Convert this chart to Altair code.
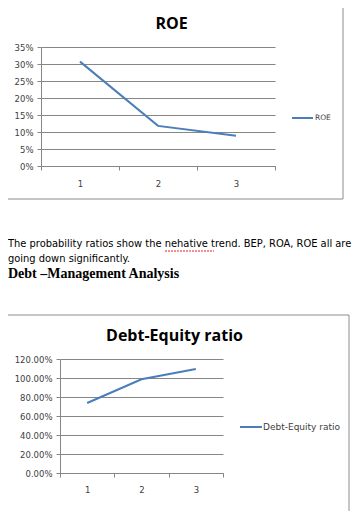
import altair as alt
import pandas as pd

# ---------------- data ----------------
periods = [1, 2, 3]
roe = [0.307, 0.118, 0.089]
debt_equity = [0.737, 0.986, 1.095]
roe_ticks = [0, 0.05, 0.10, 0.15, 0.20, 0.25, 0.30, 0.35]
de_ticks = [0, 0.2, 0.4, 0.6, 0.8, 1.0, 1.2]
roe_title = "ROE"
de_title = "Debt-Equity ratio"
body_lines = [
    "The probability ratios show the nehative trend. BEP, ROA, ROE all are",
    "going down significantly.",
]
heading = "Debt \u2013Management Analysis"

# ---------------- style ----------------
W, H = 346, 503
LINE = "#4a7ebb"
GRID = "#868686"
FRAME = "#8c8c8c"
LABEL = "#404040"
TICKFONT = "DejaVu Sans"
TITLEFONT = "Open Sans"
BODYFONT = "Liberation Sans Narrow, DejaVu Sans Condensed, Open Sans"
one = pd.DataFrame({"a": [0]})


def text_mark(txt, x, y, size, font, weight="normal", align="left", color="#000000"):
    return alt.Chart(pd.DataFrame({"t": [txt]})).mark_text(
        align=align, baseline="alphabetic", font=font, fontSize=size,
        fontWeight=weight, color=color
    ).encode(x=alt.value(x), y=alt.value(y), text="t:N")


def frame(x1, x2, y1, y2):
    return alt.Chart(one).mark_rect(fill="transparent", stroke=FRAME, strokeWidth=1).encode(
        x=alt.value(x1), x2=alt.value(x2), y=alt.value(y1), y2=alt.value(y2))


def legend_line(x1, x2, y):
    return alt.Chart(one).mark_rule(color=LINE, strokeWidth=2).encode(
        x=alt.value(x1), x2=alt.value(x2), y=alt.value(y))


def legend_text(txt, x, y, size):
    return alt.Chart(pd.DataFrame({"t": [txt]})).mark_text(
        align="left", baseline="middle", font=TICKFONT, fontSize=size, color=LABEL
    ).encode(x=alt.value(x), y=alt.value(y), text="t:N")


def axis_x(offset, pad):
    return alt.Axis(orient="bottom", offset=offset, tickBand="extent", labelAngle=0,
                    title=None, grid=False, domainColor=GRID, tickColor=GRID,
                    tickSize=4, labelFont=TICKFONT, labelFontSize=8.5,
                    labelColor=LABEL, labelPadding=pad)


def axis_y(offset, values, fmt, size):
    return alt.Axis(orient="left", offset=offset, values=values, format=fmt,
                    title=None, grid=True, gridColor=GRID, domainColor=GRID,
                    tickColor=GRID, tickSize=4, labelFont=TICKFONT,
                    labelFontSize=size, labelColor=LABEL, labelPadding=4)


# ---------------- ROE chart ----------------
roe_df = pd.DataFrame({"period": periods, "value": roe})
roe_line = alt.Chart(roe_df).mark_line(color=LINE, strokeWidth=2).encode(
    x=alt.X("period:O",
            scale=alt.Scale(type="band", domain=periods, range=[33, 267],
                            paddingInner=0, paddingOuter=0),
            axis=axis_x(158 - H, 9)),
    y=alt.Y("value:Q",
            scale=alt.Scale(domain=[0, 0.35], range=[158, 39], nice=False, zero=False),
            axis=axis_y(-33, roe_ticks, ".0%", 8.5)),
)

# ---------------- Debt-Equity chart ----------------
de_df = pd.DataFrame({"period": periods, "value": debt_equity})
de_line = alt.Chart(de_df).mark_line(color=LINE, strokeWidth=2).encode(
    x=alt.X("period:O",
            scale=alt.Scale(type="band", domain=periods, range=[52, 215],
                            paddingInner=0, paddingOuter=0),
            axis=axis_x(465 - H, 8)),
    y=alt.Y("value:Q",
            scale=alt.Scale(domain=[0, 1.2], range=[465, 351], nice=False, zero=False),
            axis=axis_y(-52, de_ticks, ".2%", 8.5)),
)

layers = [
    frame(-20, 335, -20, 191),
    frame(-20, 341, 307, 540),
    roe_line,
    de_line,
    text_mark(roe_title, 163.5, 21, 16, TITLEFONT, weight="bold", align="center"),
    text_mark(de_title, 166.5, 333, 16, TITLEFONT, weight="bold", align="center"),
    legend_line(284, 305, 110),
    legend_text("ROE", 307, 110, 7.5),
    legend_line(232, 254, 419),
    legend_text(de_title, 255, 419, 9),
    text_mark(body_lines[0], 0, 239, 11, BODYFONT),
    text_mark(body_lines[1], 0, 254, 11, BODYFONT),
    alt.Chart(one).mark_rule(color="#e02020", strokeWidth=1, strokeDash=[2, 1]).encode(
        x=alt.value(157), x2=alt.value(206), y=alt.value(243)),
    text_mark(heading, 0, 270, 14, "Liberation Serif", weight="bold"),
]

chart = alt.layer(*layers).resolve_scale(
    x="independent", y="independent"
).resolve_axis(
    x="independent", y="independent"
).properties(
    width=W, height=H, autosize=alt.AutoSizeParams(type="none"), padding=0
).configure_view(stroke=None)

chart.save("out.html", embed_options={"renderer": "svg", "actions": False})
